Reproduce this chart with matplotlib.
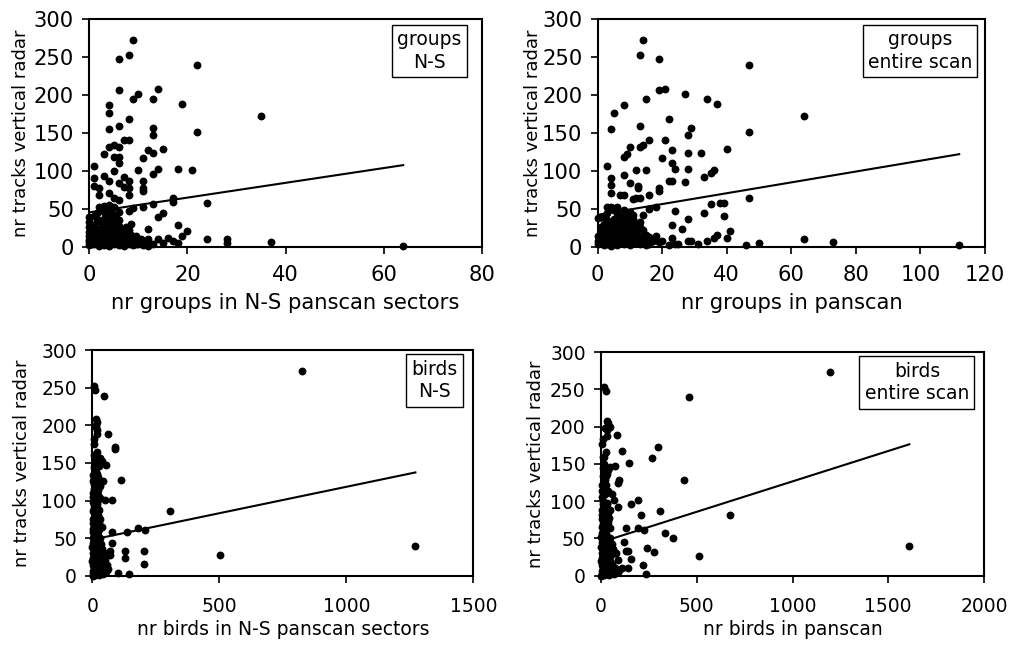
import numpy as np
import matplotlib.pyplot as plt

plt.rcParams['font.family'] = ['DejaVu Sans']

# (x, y) pairs: x = groups / birds counted on the panscan, y = tracks on the vertical radar
groups_ns = np.array([
    [9, 273], [6, 247], [8, 252], [22, 239], [6, 206], [14, 208], [10, 201], [9, 195],
    [13, 195], [4, 187], [19, 188], [4, 176], [8, 168], [6, 159], [4, 155], [13, 157],
    [13, 147], [22, 151], [35, 172], [7, 141], [8, 141], [4, 131], [5, 134], [6, 132],
    [3, 122], [12, 127], [13, 124], [15, 129], [5, 118], [6, 118], [11, 117], [1, 107],
    [6, 111], [10, 101], [14, 103], [18, 102], [21, 101], [5, 100], [13, 96], [1, 90],
    [3, 93], [4, 87], [7, 92], [8, 87], [1, 80], [6, 84], [7, 79], [11, 86], [11, 77],
    [11, 73], [2, 77], [8, 78], [4, 71], [2, 68], [8, 68], [5, 64], [6, 61], [17, 64],
    [17, 59], [24, 58], [13, 56], [8, 47], [9, 51], [11, 52], [2, 53], [3, 54], [4, 55],
    [5, 53], [6, 46], [14, 39], [15, 45], [12, 24], [18, 29], [20, 21], [24, 10], [28, 10],
    [28, 5], [37, 6], [64, 1], [15, 5], [16, 11], [17, 8], [18, 5], [19, 14], [12, 10],
    [14, 10], [10, 7],
    [0, 2], [0, 6], [0, 9], [0, 14], [0, 19], [0, 26], [0, 33], [0, 39],
    [1, 3], [1, 7], [1, 12], [1, 17], [1, 22], [1, 29], [1, 40],
    [2, 1], [2, 5], [2, 10], [2, 15], [2, 20], [2, 24], [2, 35],
    [3, 2], [3, 6], [3, 11], [3, 16], [3, 22], [3, 28], [3, 37], [3, 46],
    [4, 1], [4, 4], [4, 9], [4, 14], [4, 19], [4, 25], [4, 31], [4, 38], [4, 44],
    [5, 3], [5, 7], [5, 12], [5, 18], [5, 24], [5, 30], [5, 42],
    [6, 2], [6, 6], [6, 10], [6, 16], [6, 21], [6, 28], [6, 35],
    [7, 1], [7, 5], [7, 9], [7, 14], [7, 20], [8, 3], [8, 7], [8, 12], [8, 22],
    [9, 2], [9, 6], [9, 10], [10, 4], [11, 2], [11, 6], [12, 1], [12, 5], [13, 3],
    [0.5, 4], [1.5, 10], [2.5, 18], [3.5, 8], [4.5, 27], [5.5, 15], [6.5, 24], [7.5, 11],
    [8.5, 16], [9.5, 4], [10.5, 10], [2.5, 30], [3.5, 41], [4.5, 34], [5.5, 38], [0.5, 23],
    [1.5, 34], [6.5, 4], [7.5, 26], [8.5, 30], [9.5, 14], [3.5, 50], [4.5, 49], [1.5, 45],
])

groups_all = np.array([
    [14, 273], [13, 252], [19, 247], [47, 239], [19, 206], [21, 208], [15, 195], [27, 201],
    [34, 195], [37, 188], [8, 187], [5, 176], [22, 168], [4, 155], [13, 159], [29, 157],
    [28, 147], [47, 151], [64, 172], [16, 141], [21, 141], [10, 131], [13, 132], [14, 134],
    [23, 128], [40, 129], [20, 117], [8, 118], [9, 122], [23, 111], [28, 124], [32, 124],
    [24, 102], [28, 103], [3, 107], [12, 101], [15, 101], [4, 90], [8, 94], [4, 81],
    [10, 84], [12.5, 80], [12.5, 77], [19, 78], [19, 74], [22, 87], [23, 86], [27, 85],
    [33, 92], [35, 97], [36, 101], [4, 71], [7, 68], [8, 68], [16, 68], [11, 63], [12, 64],
    [13, 64], [47, 64], [38, 58], [39, 58], [35, 57], [18, 52], [16, 50], [28, 37],
    [24, 47], [23, 29], [26, 23], [33, 45], [39, 40], [41, 21], [40, 11], [37, 15],
    [36, 11], [34, 8], [31, 4], [28, 8], [29, 7], [46, 2], [50, 5], [64, 10], [73, 6],
    [112, 2], [11, 42], [14, 42], [19, 6], [20, 7], [23, 11], [24, 3], [25, 3], [22, 2],
    [0, 38], [1, 39], [2, 41], [3, 44], [4, 53], [5, 48],
    [0, 3], [0, 8], [0, 14], [1, 5], [1, 11], [1, 18], [2, 2], [2, 9], [2, 24], [2, 30],
    [3, 4], [3, 13], [3, 20], [3, 27], [4, 1], [4, 8], [4, 16], [4, 33], [5, 5], [5, 12],
    [5, 22], [5, 36], [6, 2], [6, 9], [6, 18], [6, 26], [6, 44], [7, 6], [7, 14], [7, 24],
    [7, 31], [7, 40], [8, 3], [8, 11], [8, 20], [8, 28], [8, 48], [9, 7], [9, 16], [9, 33],
    [10, 2], [10, 12], [10, 22], [10, 36], [11, 5], [11, 16], [11, 28], [12, 9], [12, 20],
    [13, 3], [13, 13], [13, 26], [14, 6], [14, 15], [15, 2], [15, 9], [16, 4], [16, 13],
    [17, 7], [18, 14],
    [1, 26], [2, 15], [3, 35], [4, 24], [5, 29], [6, 34], [7, 18], [8, 36], [9, 25], [10, 30],
    [11, 36], [12, 29], [9, 42], [6, 52], [3, 52], [10, 46], [13, 33], [14, 22], [15, 16],
])

birds_ns = np.array([
    [8, 253], [10, 247], [47, 239], [14, 208], [18, 205], [16, 200], [17, 194], [17, 188],
    [60, 188], [8, 175], [89, 171], [89, 168], [10, 158], [30, 157], [39, 152], [52, 147],
    [14, 143], [14, 138], [113, 128], [8, 130], [24, 131], [43, 126], [8, 122], [30, 120],
    [8, 112], [21, 107], [30, 103], [50, 101], [79, 101], [8, 94], [21, 89], [8, 85],
    [24, 81], [306, 86], [8, 76], [17, 72], [37, 65], [24, 58], [8, 54], [76, 58],
    [135, 58], [181, 64], [207, 61], [76, 44], [129, 33], [129, 23], [205, 33], [205, 15],
    [70, 33], [70, 27], [50, 21], [56, 14], [100, 4], [146, 2], [827, 272], [503, 27],
    [1272, 40],
    [2, 2], [4, 6], [6, 10], [3, 14], [8, 18], [5, 22], [10, 26], [2, 30], [12, 35],
    [6, 39], [3, 44], [9, 48], [14, 52], [4, 58], [11, 62], [7, 66], [2, 70], [13, 80],
    [5, 90], [3, 98], [12, 104], [6, 115], [3, 126], [15, 4], [20, 8], [25, 12], [18, 16],
    [28, 20], [22, 24], [32, 28], [17, 32], [26, 37], [35, 42], [20, 46], [30, 50],
    [38, 6], [45, 11], [42, 2], [55, 5], [60, 9], [35, 16], [48, 30], [40, 36],
    [1, 0], [9, 1], [18, 3], [27, 1], [33, 4], [12, 9], [24, 15], [7, 34], [16, 42],
    [29, 64], [19, 98], [23, 114], [11, 140], [6, 160], [28, 146],
    [4, 76], [10, 82], [16, 88], [3, 105], [15, 110], [9, 118], [18, 124], [4, 134],
    [12, 150], [17, 165], [5, 182], [14, 198], [20, 96], [25, 70], [6, 100], [12, 92],
    [18, 56], [2, 62], [10, 72], [22, 40], [28, 30], [12, 44], [3, 86], [20, 136],
    [7, 145], [4, 110], [26, 88], [9, 60], [15, 66], [30, 76], [1, 50], [0, 20], [0, 38],
    [2, 24], [6, 28], [19, 20], [11, 14], [25, 6],
])

birds_all = np.array([
    [17, 253], [26, 248], [461, 240], [30, 207], [38, 205], [47, 200], [30, 196], [85, 189],
    [30, 188], [7, 177], [111, 168], [296, 173], [17, 160], [146, 151], [73, 147],
    [265, 158], [35, 142], [26, 134], [21, 129], [94, 128], [87, 125], [435, 129],
    [38, 113], [56, 110], [70, 102], [195, 101], [157, 96], [90, 92], [308, 87], [209, 81],
    [675, 81], [21, 77], [47, 88], [38, 68], [132, 64], [195, 64], [224, 61], [334, 58],
    [378, 51], [122, 45], [129, 33], [143, 33], [242, 37], [278, 32], [157, 23], [513, 27],
    [221, 14], [235, 2], [73, 30], [90, 21], [108, 10], [143, 10], [1197, 273], [1610, 40],
    [3, 2], [6, 6], [10, 10], [4, 14], [12, 18], [8, 22], [16, 26], [3, 30], [20, 35],
    [9, 40], [5, 45], [14, 49], [24, 54], [6, 58], [18, 62], [11, 70], [4, 82], [22, 92],
    [8, 100], [14, 118], [5, 122], [25, 4], [33, 8], [40, 12], [28, 16], [45, 20],
    [36, 24], [52, 28], [27, 33], [42, 38], [58, 42], [32, 46], [48, 50], [62, 6],
    [75, 11], [68, 2], [88, 5], [96, 8], [57, 16], [78, 30], [64, 36], [2, 0], [14, 1],
    [29, 3], [44, 1], [55, 4], [19, 9], [39, 15], [12, 34], [26, 42], [48, 64], [31, 98],
    [37, 114], [18, 140], [10, 160], [45, 146],
    [6, 76], [15, 84], [24, 88], [5, 106], [20, 110], [12, 112], [28, 122], [8, 134],
    [17, 150], [24, 166], [9, 184], [20, 198], [30, 96], [36, 72], [10, 96], [18, 92],
    [28, 56], [3, 66], [15, 72], [33, 40], [40, 30], [18, 44], [5, 88], [30, 136],
    [12, 145], [6, 114], [38, 84], [14, 60], [22, 66], [42, 78], [2, 52], [0, 20], [0, 38],
    [3, 24], [9, 28], [28, 22], [16, 14], [36, 6],
])

# linear trend lines (intercept, slope)
trend_groups_ns = (45.3, 0.973)
trend_groups_all = (42.0, 0.714)
trend_birds_ns = (48.0, 0.0703)
trend_birds_all = (45.0, 0.0816)

# data, trend, xmax, xstep, xlabel, tag, axes rect, tag position, ylabel x,
# font size, x tick pad, xlabel pad
panels = [
    (groups_ns, trend_groups_ns, 80, 20, 'nr groups in N-S panscan sectors', 'groups\nN-S',
     [89.3 / 1011, 0.618, 392.4 / 1011, 0.3525], (0.949, 0.952), -0.150, 15.2, 8, 6),
    (groups_all, trend_groups_all, 120, 20, 'nr groups in panscan', 'groups\nentire scan',
     [597.7 / 1011, 0.618, 387.3 / 1011, 0.3525], (0.967, 0.952), -0.145, 15.2, 8, 6),
    (birds_ns, trend_birds_ns, 1500, 500, 'nr birds in N-S panscan sectors', 'birds\nN-S',
     [92.3 / 1011, 0.1088, 381 / 1011, 0.349], (0.959, 0.958), -0.160, 13.5, 10, 3),
    (birds_all, trend_birds_all, 2000, 500, 'nr birds in panscan', 'birds\nentire scan',
     [601 / 1011, 0.1088, 383 / 1011, 0.346], (0.961, 0.958), -0.145, 13.5, 10, 3),
]

fig = plt.figure(figsize=(10.11, 6.46), dpi=100)

for pts, (b0, b1), xmax, xstep, xlabel, tag, rect, tag_xy, ylab_x, fs, xpad, lpad in panels:
    ax = fig.add_axes(rect)
    ax.scatter(pts[:, 0], pts[:, 1], s=32, color='black', linewidths=0, clip_on=False, zorder=3)
    xs = np.array([pts[:, 0].min(), pts[:, 0].max()])
    ax.plot(xs, b0 + b1 * xs, color='black', lw=1.5, zorder=2)
    ax.set_xlim(0, xmax)
    ax.set_ylim(0, 300)
    ax.set_xticks(np.arange(0, xmax + 1, xstep))
    ax.set_yticks(np.arange(0, 301, 50))
    ax.tick_params(direction='out', length=5, width=1.2, labelsize=fs, colors='black')
    ax.tick_params(axis='x', pad=xpad)
    ax.tick_params(axis='y', pad=6)
    for sp in ax.spines.values():
        sp.set_linewidth(1.5)
        sp.set_color('black')
    ax.set_xlabel(xlabel, fontsize=fs, labelpad=lpad)
    ax.set_ylabel('nr tracks vertical radar', fontsize=13)
    ax.yaxis.set_label_coords(ylab_x, 0.5)
    ax.text(tag_xy[0], tag_xy[1], tag, transform=ax.transAxes, ha='right', va='top',
            multialignment='center', fontsize=13.5, linespacing=1.25,
            bbox=dict(boxstyle='square,pad=0.28', facecolor='white', edgecolor='black', lw=1))

fig.savefig('out.png', dpi=100)
